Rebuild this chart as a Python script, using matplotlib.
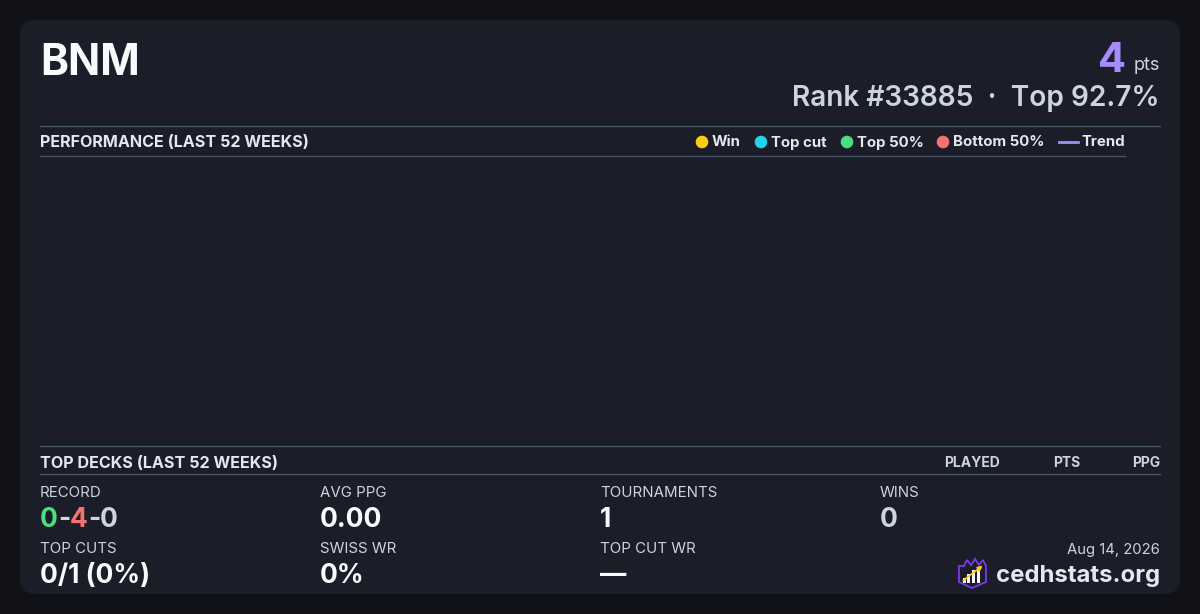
import matplotlib
matplotlib.use("Agg")
import matplotlib.pyplot as plt
from matplotlib.patches import FancyBboxPatch, Polygon, Rectangle, Circle
from matplotlib.lines import Line2D

plt.rcParams['font.family'] = ['Inter', 'DejaVu Sans']

# ---- data ----
player = "BNM"
points = 4
rank = 33885
top_pct = 92.7
legend_labels = ["Win", "Top cut", "Top 50%", "Bottom 50%", "Trend"]
legend_colors = ["#facc15", "#22d3ee", "#4ade80", "#f87171", "#a78bfa"]
deck_columns = ["PLAYED", "PTS", "PPG"]
record = [0, 4, 0]
stat_labels = ["RECORD", "AVG PPG", "TOURNAMENTS", "WINS",
               "TOP CUTS", "SWISS WR", "TOP CUT WR"]
stat_values = [None, "0.00", "1", "0", "0/1 (0%)", "0%", "\u2014"]
date_text = "Aug 14, 2026"
site = "cedhstats.org"

# ---- colours ----
BG = "#111218"
CARD = "#1b1d28"
RULE = "#475569"
WHITE = "#f8fafc"
LIGHT = "#cbd5e1"
HEAD = "#e2e8f0"

fig = plt.figure(figsize=(12, 6.14), dpi=100, facecolor=BG)
ax = fig.add_axes([0, 0, 1, 1])
ax.set_xlim(0, 1200)
ax.set_ylim(614, 0)
ax.axis('off')
ax.set_facecolor(BG)

ax.add_patch(FancyBboxPatch((20, 20), 1160, 574,
                            boxstyle="round,pad=0,rounding_size=16",
                            fc=CARD, ec="none"))

# header
ax.text(40, 75, player, color=WHITE, fontsize=30.5, fontweight='bold',
        ha='left', va='baseline')
t_pts = ax.text(1160, 70, "pts", color=LIGHT, fontsize=13, ha='right', va='baseline')
fig.canvas.draw()
r = fig.canvas.get_renderer()
wpts = t_pts.get_window_extent(r).width
ax.text(1160 - wpts - 7, 72, str(points), color="#a78bfa", fontsize=30,
        fontweight='bold', ha='right', va='baseline')
ax.text(1160, 106, f"Rank #{rank}  \u00b7  Top {top_pct}%", color=LIGHT,
        fontsize=20.2, fontweight='semibold', ha='right', va='baseline')

# performance section
ax.add_line(Line2D([40, 1160], [126, 126], color=RULE, lw=1))
ax.add_line(Line2D([40, 1125], [156, 156], color=RULE, lw=1))
ax.text(40, 147, "PERFORMANCE (LAST 52 WEEKS)", color=HEAD, fontsize=11.6,
        fontweight='bold', ha='left', va='baseline')

marker_x = [702, 761, 847, 943]
text_x = [712, 771, 857, 953, 1081]
for i, (lab, col) in enumerate(zip(legend_labels, legend_colors)):
    if lab == "Trend":
        ax.add_line(Line2D([1059, 1078], [142, 142], color=col, lw=2))
    else:
        ax.add_patch(Circle((marker_x[i], 142), 6.3, fc=col, ec='none'))
    ax.text(text_x[i], 146.5, lab, color=HEAD, fontsize=10.8, fontweight='bold',
            ha='left', va='baseline')

# top decks section
ax.add_line(Line2D([40, 1160], [446, 446], color=RULE, lw=1))
ax.add_line(Line2D([40, 1160], [474, 474], color=RULE, lw=1))
ax.text(40, 467.5, "TOP DECKS (LAST 52 WEEKS)", color=HEAD, fontsize=11.6,
        fontweight='bold', ha='left', va='baseline')
col_right = [1000, 1080, 1160]
for lab, xr in zip(deck_columns, col_right):
    ax.text(xr, 467, lab, color=LIGHT, fontsize=10, fontweight='bold',
            ha='right', va='baseline')

# stats grid
col_x = [40, 320, 600, 880]
pos = [(0, 0), (1, 0), (2, 0), (3, 0), (0, 1), (1, 1), (2, 1)]
for lab, val, (c, rw) in zip(stat_labels, stat_values, pos):
    x = col_x[c]
    ly = 497 + 56 * rw
    vy = 527 + 56 * rw
    ax.text(x, ly, lab, color=LIGHT, fontsize=10.8, ha='left', va='baseline')
    if val is not None:
        vc = LIGHT if lab == "WINS" else WHITE
        ax.text(x, vy, val, color=vc, fontsize=19, fontweight='bold',
                ha='left', va='baseline')

# record with colours
parts = [(str(record[0]), "#4ade80"), ("-", LIGHT), (str(record[1]), "#f87171"),
         ("-", LIGHT), (str(record[2]), LIGHT)]
xx = 40
for s, c in parts:
    t = ax.text(xx, 527, s, color=c, fontsize=19, fontweight='bold',
                ha='left', va='baseline')
    fig.canvas.draw()
    xx += t.get_window_extent(fig.canvas.get_renderer()).width

# footer
ax.text(1160, 554, date_text, color=LIGHT, fontsize=10.7, ha='right', va='baseline')
ax.text(1160, 582, site, color=HEAD, fontsize=17.2, fontweight='bold',
        ha='right', va='baseline')

# logo (shield with crown)
shield = [(959, 566), (964, 566), (967, 560), (971, 565), (975, 559),
          (979, 565), (983, 560), (986, 566), (986, 582), (972, 588), (959, 582)]
ax.add_patch(Polygon(shield, closed=True, fc=CARD, ec="#7c3aed", lw=1.3))
bars = [(963, 578, 3), (967, 574, 3), (972, 570, 3), (977, 567, 3)]
for bx, by, bw in bars:
    ax.add_patch(Rectangle((bx, by), bw, 583 - by, fc=WHITE, ec='none'))
ax.annotate("", xy=(985, 564), xytext=(961, 582),
            arrowprops=dict(arrowstyle="-|>", color="#facc15", lw=1.2,
                            mutation_scale=7))

fig.savefig("out.png", dpi=100, facecolor=BG)
